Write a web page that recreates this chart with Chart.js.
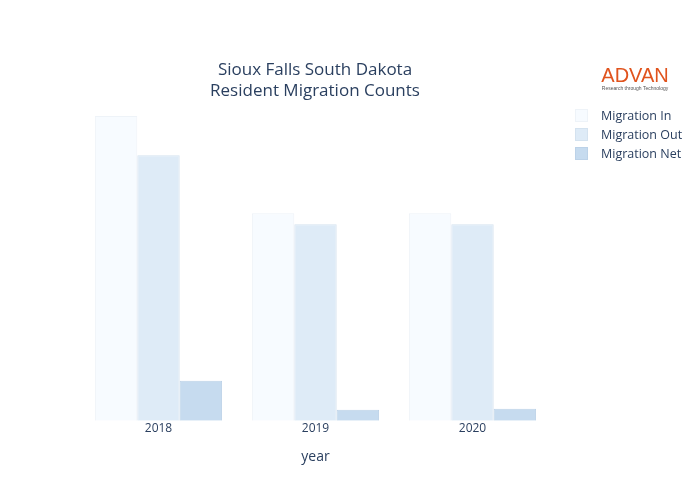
<!DOCTYPE html>
<html><head><script src="https://cdn.jsdelivr.net/npm/chart.js@4"></script>
<style>body{margin:0;background:#fff}#w{width:700px;height:500px}</style></head>
<body><div id="w"><canvas id="c"></canvas></div>
<script>
const years=['2018','2019','2020'];
const migrationIn=[304,207,207];
const migrationOut=[265,196,196];
const migrationNet=[40,11,12];
const seriesNames=['Migration In','Migration Out','Migration Net'];
const fills=['#f7fbff','#deebf7','#c6dbef'];
const borders=['#eef3f8','#d4e2ef','#bcd2e8'];
const font='"Open Sans", sans-serif';
const overlay={id:'overlay',afterDraw(ch){const x=ch.ctx;x.save();
x.fillStyle='#2a3f5f';x.textAlign='center';x.textBaseline='middle';x.font='17px '+font;
x.fillText('Sioux Falls South Dakota',315,70);x.fillText('Resident Migration Counts',315,91);
x.textAlign='left';x.font='12.5px '+font;
seriesNames.forEach((n,i)=>{const y=115+i*19;x.fillStyle=fills[i];x.fillRect(575,y-6,13,13);x.strokeStyle=borders[i];x.lineWidth=1;x.strokeRect(575.5,y-5.5,12,12);x.fillStyle='#2a3f5f';x.fillText(n,601,y+1);});
x.fillStyle='#e0531d';x.font='20px "Liberation Sans", sans-serif';x.textAlign='center';x.fillText('ADVAN',635,76);
x.fillStyle='#555';x.font='5px "Liberation Sans", sans-serif';x.fillText('Research through Technology',635,89);
x.restore();}};
new Chart(document.getElementById('c'),{type:'bar',
data:{labels:years,datasets:[migrationIn,migrationOut,migrationNet].map((d,i)=>({label:seriesNames[i],data:d,backgroundColor:fills[i],borderColor:borders[i],borderWidth:1,categoryPercentage:0.81,barPercentage:1}))},
options:{responsive:true,maintainAspectRatio:false,animation:false,
layout:{padding:{left:80,right:149,top:100,bottom:35}},
plugins:{legend:{display:false},tooltip:{enabled:false}},
scales:{y:{display:false,min:0,max:320},
x:{grid:{display:false},border:{display:false},ticks:{color:'#2a3f5f',font:{family:font,size:12},padding:-7},title:{display:true,text:'year',color:'#2a3f5f',font:{family:font,size:14},padding:{top:19,bottom:0}}}}},
plugins:[overlay]});
</script></body></html>
